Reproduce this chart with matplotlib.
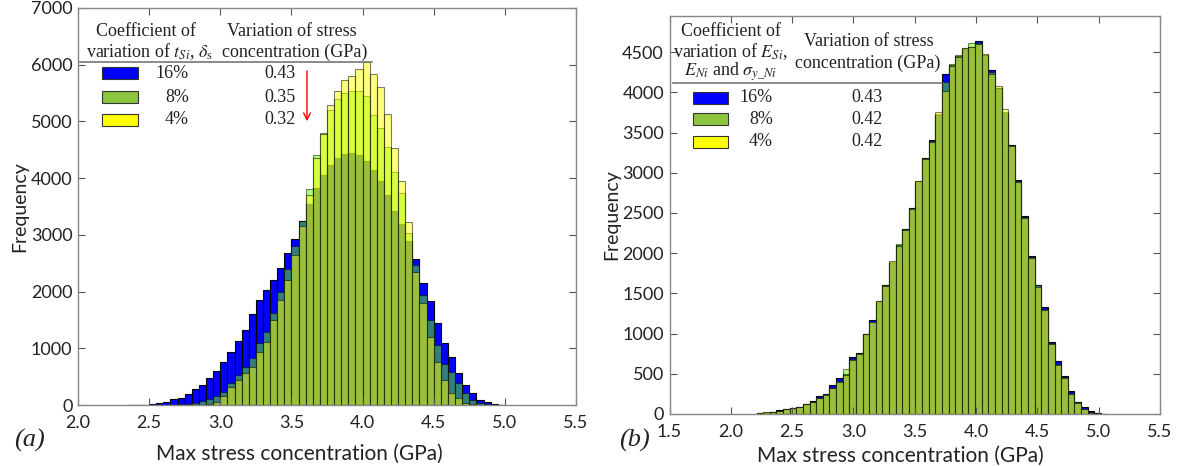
import numpy as np
import matplotlib.pyplot as plt
from matplotlib.patches import Rectangle, FancyArrowPatch
from matplotlib.lines import Line2D

plt.rcParams['mathtext.fontset'] = 'stix'
plt.rcParams['font.family'] = ['Lato', 'DejaVu Sans']

W, H = 1183, 466

# panel (a): bins of 0.05 GPa, first bin starts at 2.35
a_start = 2.35
a_width = 0.05
a_blue = [2, 4, 8, 15, 35, 45, 100, 130, 190, 280, 360, 480, 600, 760, 940, 1130, 1330,
          1600, 1850, 2020, 2200, 2420, 2680, 2930, 3250, 3550, 3820, 4050, 4230, 4360,
          4430, 4450, 4400, 4300, 4150, 3950, 3700, 3420, 3200, 2900, 2575, 2150, 1840,
          1450, 1090, 850, 560, 350, 210, 90, 50, 20, 8]
a_green = [0, 0, 0, 0, 0, 0, 5, 12, 20, 40, 65, 100, 150, 235, 385, 530, 670,
           830, 1100, 1290, 1620, 2000, 2400, 2800, 3250, 3800, 4400, 4800, 5200, 5400,
           5500, 5530, 5530, 5450, 5110, 4880, 4550, 4100, 3740, 3030, 2470, 1940, 1500,
           1060, 720, 580, 390, 210, 90, 30, 10, 3, 0]
a_yellow = [0, 0, 0, 0, 0, 0, 0, 0, 0, 0, 3, 10, 61, 150, 320, 440, 560,
            670, 930, 1110, 1500, 1850, 2200, 2650, 3150, 3700, 4350, 4780, 5290, 5540,
            5730, 5800, 5920, 6050, 5840, 5610, 5130, 4530, 3950, 3230, 2350, 1800, 1200,
            760, 440, 210, 120, 35, 20, 5, 0, 0, 0]

# panel (b): bins of 0.054 GPa, first bin starts at 2.21
b_start = 2.21
b_width = 0.054
b_blue = [10, 18, 30, 45, 60, 80, 90, 130, 160, 222, 250, 360, 452, 500, 704, 760, 990,
          1170, 1390, 1610, 1880, 2100, 2300, 2560, 2880, 3190, 3410, 3720, 4227, 4340,
          4450, 4540, 4570, 4640, 4460, 4280, 4060, 3740, 3340, 2910, 2460, 1960, 1610,
          1330, 900, 660, 470, 290, 150, 90, 40, 15, 5]
b_green = [13, 21, 29, 42, 59, 75, 85, 126, 151, 201, 243, 327, 410, 557, 683, 754, 997,
           1150, 1400, 1600, 1890, 2109, 2295, 2560, 2903, 3180, 3400, 3730, 4130, 4351,
           4462, 4557, 4610, 4620, 4470, 4250, 4050, 3750, 3350, 2900, 2450, 1950, 1600,
           1300, 880, 620, 460, 260, 145, 65, 20, 5, 0]
b_yellow = [12, 20, 25, 40, 62, 70, 88, 120, 150, 195, 240, 320, 400, 480, 670, 750, 1000,
            1140, 1410, 1590, 1900, 2090, 2290, 2550, 2900, 3170, 3380, 3760, 4020, 4330,
            4440, 4550, 4570, 4600, 4480, 4230, 4080, 3790, 3330, 2880, 2440, 1940, 1580,
            1290, 870, 610, 450, 250, 140, 60, 18, 5, 0]

levels = ['16%', '8%', '4%']
a_variation = ['0.43', '0.35', '0.32']
b_variation = ['0.43', '0.42', '0.42']

bar_colors = ['#0000ff', '#66ff00', '#ffff00']
bar_alpha = [1.0, 0.5, 0.5]
legend_colors = ['#0000ff', '#8cc63f', '#ffff00']


def px(x, y):
    return x / W, 1 - y / H


fig = plt.figure(figsize=(W / 100, H / 100), dpi=100)
ax_a = fig.add_axes([78 / W, 1 - 405 / H, 498 / W, 397 / H])
ax_b = fig.add_axes([669.5 / W, 1 - 414 / H, 490.5 / W, 398 / H])


def draw_hist(ax, start, width, series):
    for vals, c, al in zip(series, bar_colors, bar_alpha):
        x = start + width * np.arange(len(vals))
        ax.bar(x, vals, width=width, align='edge', color=c, alpha=al,
               edgecolor='k', linewidth=0.8)


draw_hist(ax_a, a_start, a_width, [a_blue, a_green, a_yellow])
draw_hist(ax_b, b_start, b_width, [b_blue, b_green, b_yellow])

ax_a.set_xlim(2.0, 5.5)
ax_a.set_ylim(0, 7000)
ax_a.set_xticks(np.arange(2.0, 5.51, 0.5))
ax_a.set_yticks(np.arange(0, 7001, 1000))
ax_b.set_xlim(1.5, 5.5)
ax_b.set_ylim(0, 4950)
ax_b.set_xticks(np.arange(1.5, 5.51, 0.5))
ax_b.set_yticks(np.arange(0, 4501, 500))

for ax in (ax_a, ax_b):
    ax.xaxis.set_major_formatter(plt.FormatStrFormatter('%.1f'))
    ax.tick_params(direction='in', top=True, right=True, length=5, width=0.8,
                   labelsize=13, colors='#555555', labelcolor='#222222')
    ax.tick_params(axis='x', pad=7)
    ax.tick_params(axis='y', pad=4)
    for s in ax.spines.values():
        s.set_color('#888888')
        s.set_linewidth(1.0)
    ax.set_xlabel('Max stress concentration (GPa)', fontsize=15, color='#222222')
    ax.set_ylabel('Frequency', fontsize=14, color='#222222')

ax_a.xaxis.set_label_coords(0.445, -0.098)
ax_a.yaxis.set_label_coords(-0.10, 0.5)
ax_b.xaxis.set_label_coords(0.47, -0.079)
ax_b.yaxis.set_label_coords(-0.10, 0.5)

serif = dict(family='Liberation Serif', fontsize=13, color='#222222')

# legend table of panel (a)
fig.text(*px(146, 32), 'Coefficient of', ha='center', va='center', **serif)
fig.text(*px(150, 52), r'variation of $t_{Si}$, $\delta_{\rm s}$', ha='center', va='center', **serif)
fig.text(*px(292, 32), 'Variation of stress', ha='center', va='center', **serif)
fig.text(*px(295, 52), 'concentration (GPa)', ha='center', va='center', **serif)
fig.add_artist(Line2D([80 / W, 372 / W], [1 - 62 / H, 1 - 62 / H], color='#777777', lw=1.2))
for i, ry in enumerate([73, 97, 120]):
    x0, y0 = px(102, ry + 6)
    fig.add_artist(Rectangle((x0, y0), 36 / W, 12 / H, facecolor=legend_colors[i],
                             edgecolor='#333333', lw=0.8, transform=fig.transFigure))
    fig.text(*px(189, ry), levels[i], ha='right', va='center', **serif)
    fig.text(*px(280, ry), a_variation[i], ha='center', va='center', **serif)
fig.add_artist(FancyArrowPatch(px(307, 68), px(307, 124), transform=fig.transFigure,
                               arrowstyle='->', mutation_scale=12, color='red', lw=1.0))

# legend table of panel (b)
fig.text(*px(731, 32), 'Coefficient of', ha='center', va='center', **serif)
fig.text(*px(730, 52), r'variation of $E_{Si}$,', ha='center', va='center', **serif)
fig.text(*px(731, 72), r'$E_{Ni}$ and $\sigma_{y\_Ni}$', ha='center', va='center', **serif)
fig.text(*px(869, 42), 'Variation of stress', ha='center', va='center', **serif)
fig.text(*px(868, 63), 'concentration (GPa)', ha='center', va='center', **serif)
fig.add_artist(Line2D([673 / W, 942 / W], [1 - 83 / H, 1 - 83 / H], color='#777777', lw=1.2))
for i, ry in enumerate([98, 119, 142]):
    x0, y0 = px(693, ry + 6)
    fig.add_artist(Rectangle((x0, y0), 35 / W, 12 / H, facecolor=legend_colors[i],
                             edgecolor='#333333', lw=0.8, transform=fig.transFigure))
    fig.text(*px(773, ry), levels[i], ha='right', va='center', **serif)
    fig.text(*px(867, ry), b_variation[i], ha='center', va='center', **serif)

fig.text(*px(29, 440), '(a)', ha='center', va='center', family='Liberation Serif',
         style='italic', fontsize=19, color='#222222')
fig.text(*px(634, 440), '(b)', ha='center', va='center', family='Liberation Serif',
         style='italic', fontsize=19, color='#222222')

fig.savefig('out.png', dpi=100)
